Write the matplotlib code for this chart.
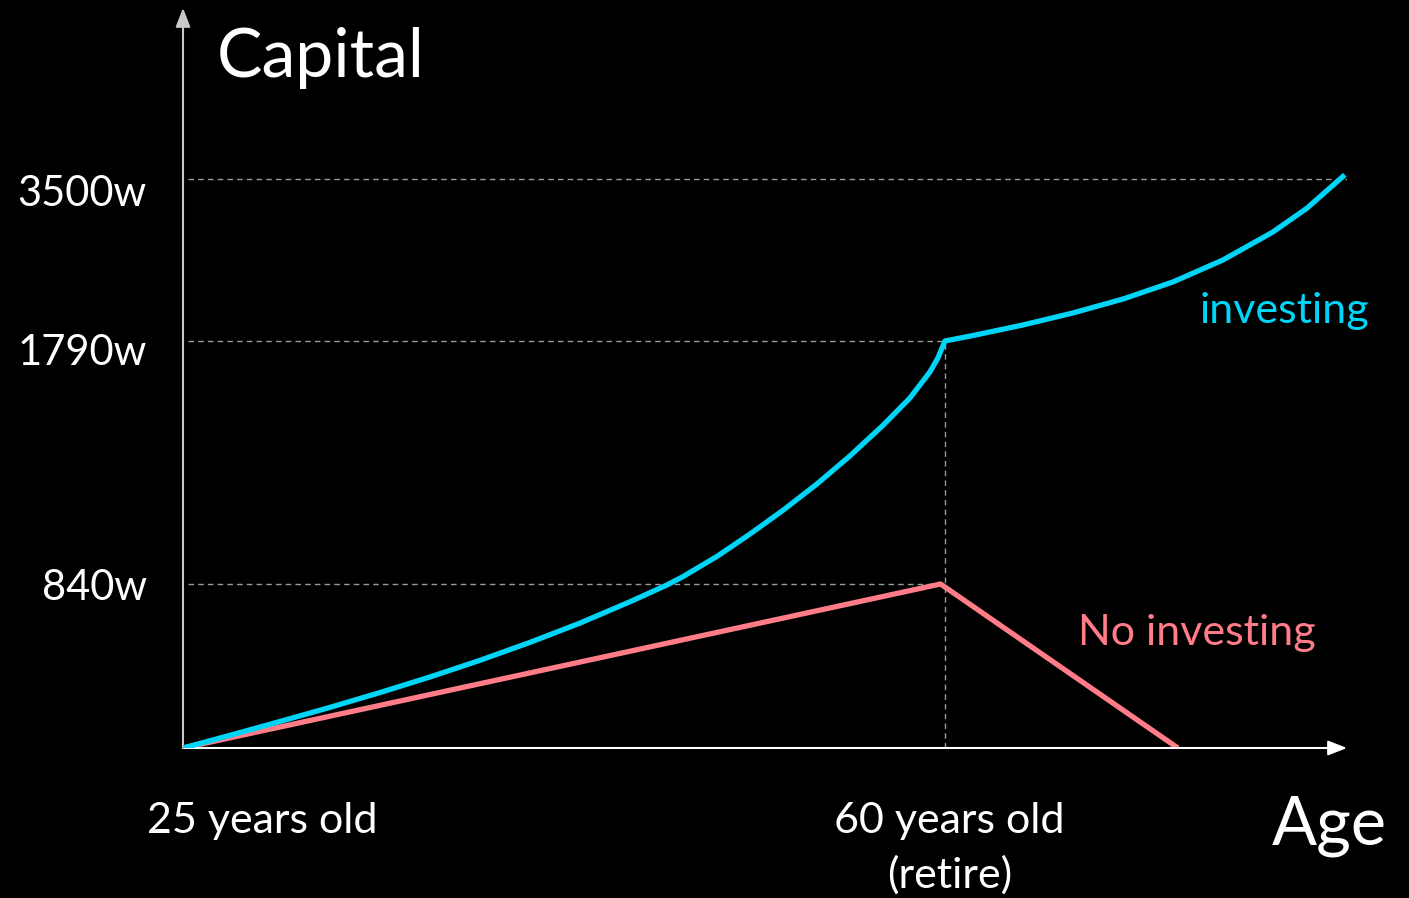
import matplotlib
matplotlib.use("Agg")
import matplotlib.pyplot as plt
import matplotlib.transforms as mtransforms
import numpy as np

# values (capital in w, age in years)
tick_values = [840, 1790, 3500]
tick_labels = ["840w", "1790w", "3500w"]

invest_age = [25.00, 27.16, 29.46, 31.75, 34.05, 36.35, 38.64, 40.94, 43.24,
              45.53, 47.23, 47.97, 49.53, 51.04, 52.56, 54.12, 55.64, 57.15,
              58.39, 59.31, 59.68, 60.00,
              61.29, 63.58, 65.88, 68.18, 70.47, 72.77, 75.07, 76.63, 78.37]
invest_cap = [0, 65, 136, 208, 284, 364, 449, 541, 640,
              749, 835, 869, 948, 1035, 1128, 1231, 1341, 1460,
              1567, 1669, 1724, 1790,
              1848, 1959, 2086, 2233, 2413, 2645, 2941, 3192, 3544]

noinv_age = [25, 59.8, 70.7]
noinv_cap = [0, 840, 0]

retire_age = 60

# the capital axis of the original is not linear: piecewise mapping
cap_pts = [0, 840, 1790, 3500, 5500]
pos_pts = [0, 164, 407, 569, 758.5]


def fwd(v):
    return np.interp(v, cap_pts, pos_pts)


def inv(p):
    return np.interp(p, pos_pts, cap_pts)


plt.rcParams["font.family"] = ["Lato", "DejaVu Sans"]

fig = plt.figure(figsize=(14.09, 8.98), dpi=100, facecolor="black")
ax = fig.add_axes([183 / 1409, 150 / 898, 1164 / 1409, 740 / 898])
ax.set_facecolor("black")
ax.set_yscale("function", functions=(fwd, inv))
ax.set_xlim(25, 78.47)
ax.set_ylim(0, inv(740))

for s in ax.spines.values():
    s.set_visible(False)

# guide lines
dash = dict(color="#9a9a9a", lw=1.0, ls=(0, (4, 3)))
ax.hlines(3500, 25.25, 78.47, **dash)
ax.hlines(1790, 25.25, retire_age, **dash)
ax.hlines(840, 25.25, 59.8, **dash)
ax.vlines(retire_age, 0, 1790, **dash)

ax.plot(noinv_age, noinv_cap, color="#ff7c88", lw=3.8, solid_capstyle="butt", zorder=3)
ax.plot(invest_age, invest_cap, color="#00d5f7", lw=3.8, solid_capstyle="butt",
        solid_joinstyle="round", zorder=4)

# axis arrows
ax.annotate("", xy=(1, 0), xytext=(0, 0), xycoords="axes fraction",
            arrowprops=dict(arrowstyle="-|>,head_length=1.15,head_width=0.45",
                            color="white", lw=1.5, shrinkA=0, shrinkB=0))
ax.annotate("", xy=(0, 1), xytext=(0, 0), xycoords="axes fraction",
            arrowprops=dict(arrowstyle="-|>,head_length=1.15,head_width=0.45",
                            color="#c8c8c8", lw=1.5, shrinkA=0, shrinkB=0))

ax.set_xticks([])
ax.set_yticks(tick_values)
ax.set_yticklabels(tick_labels)
ax.yaxis.set_minor_locator(matplotlib.ticker.NullLocator())
ax.tick_params(axis="y", length=0, pad=26, labelsize=30, labelcolor="white")
# labels sit a little below their guide lines in the original
for lab, dy in zip(ax.get_yticklabels(), [0, -6, -8]):
    lab.set_transform(lab.get_transform()
                      + mtransforms.ScaledTranslation(0, dy / 72, fig.dpi_scale_trans))

tr = ax.get_xaxis_transform()
ax.text(26.56, 0.907, "Capital", transform=tr, color="white", fontsize=49, va="baseline")
ax.text(75.0, -0.131, "Age", transform=tr, color="white", fontsize=48, va="baseline")
ax.text(23.35, -0.115, "25 years old", transform=tr, color="white", fontsize=31, va="baseline")
ax.text(60.2, -0.115, "60 years old", transform=tr, color="white", fontsize=31,
        va="baseline", ha="center")
ax.text(60.2, -0.189, "(retire)", transform=tr, color="white", fontsize=31,
        va="baseline", ha="center")
ax.text(71.7, 0.574, "investing", transform=tr, color="#00d5f7", fontsize=31, va="baseline")
ax.text(66.1, 0.139, "No investing", transform=tr, color="#ff7c88", fontsize=31, va="baseline")

fig.savefig("out.png", dpi=100, facecolor="black")
